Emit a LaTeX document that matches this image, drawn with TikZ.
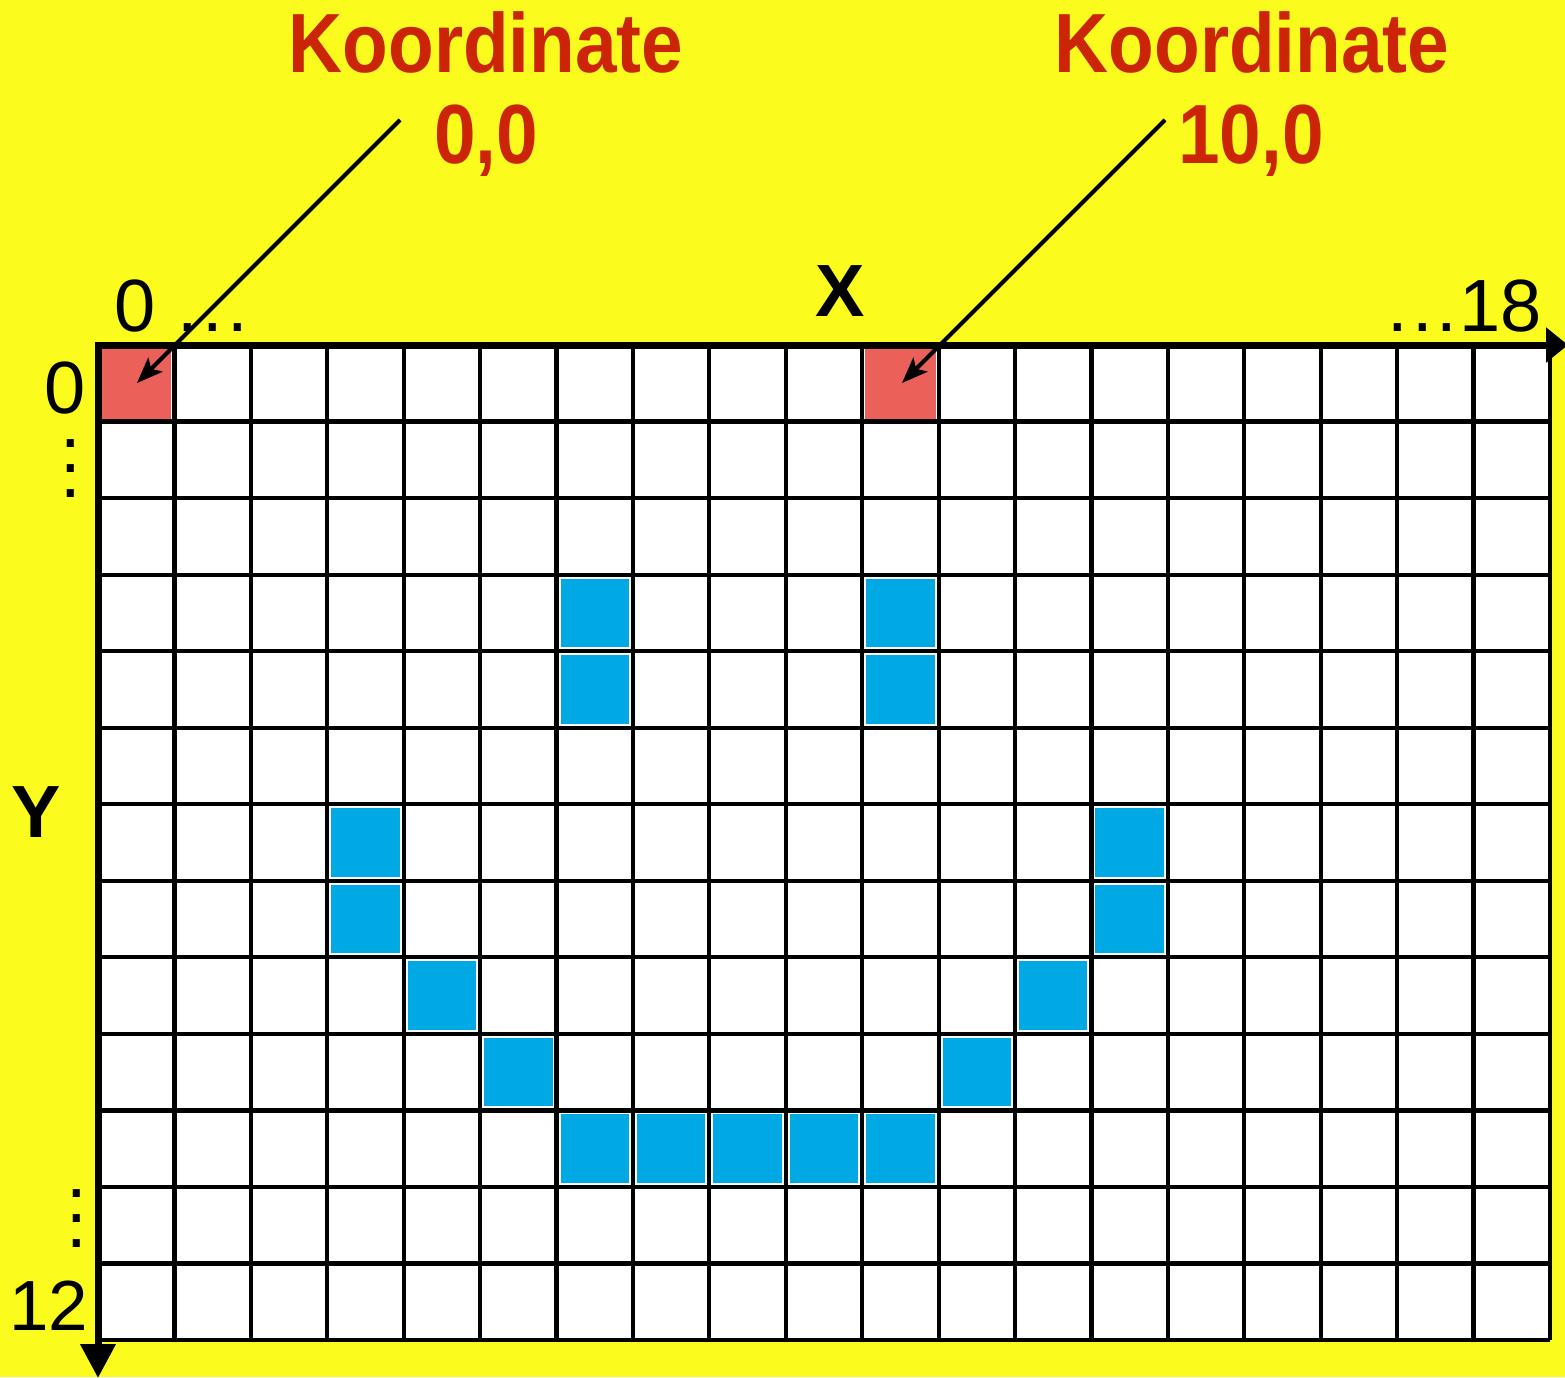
\documentclass[tikz,border=0pt]{standalone}
\usepackage{fontspec}
\setmainfont{Liberation Sans}
\newfontfamily\titlefont[FakeStretch=0.89]{Liberation Sans}
\usetikzlibrary{arrows.meta}
\definecolor{bgyellow}{RGB}{251,251,30}
\definecolor{titlered}{RGB}{204,36,6}
\definecolor{cellred}{RGB}{236,96,90}
\definecolor{cellblue}{RGB}{0,168,228}
\newcommand{\vdotsstack}{\vbox{\baselineskip=25pt\lineskiplimit=-100pt\hbox{.}\hbox{.}\hbox{.}}}
\begin{document}
\begin{tikzpicture}[x=1pt,y=-1pt,
  gridline/.style={line width=4.2pt,black},
  axisline/.style={line width=7pt,black},
  pointer/.style={line width=4pt,black,-{Stealth[length=26pt,width=20pt,inset=6pt]}},
  title/.style={font=\titlefont\bfseries\fontsize{84}{92}\selectfont,text=titlered,inner sep=0pt,anchor=base},
  tick/.style={font=\fontsize{74}{25}\selectfont,inner sep=0pt,anchor=base},
  axislabel/.style={font=\bfseries\fontsize{74}{80}\selectfont,inner sep=0pt,anchor=base},
  redcell/.style={fill=cellred},
  bluecell/.style={fill=cellblue}]
\def\cw{76.42}
\def\ch{76.54}
\useasboundingbox (0,0) rectangle (1565,1377);
\fill[bgyellow] (0,0) rectangle (1565,1377);
\fill[white] (98,345) rectangle (1550,1340);
% coloured cells
\foreach \c/\r in {0/0,10/0}{
  \fill[redcell] ({98+\c*\cw+3},{345+\r*\ch+4}) rectangle ({98+(\c+1)*\cw-3},{345+(\r+1)*\ch-3});
}
\foreach \c/\r in {6/3,6/4,10/3,10/4,3/6,3/7,13/6,13/7,4/8,12/8,5/9,11/9,6/10,7/10,8/10,9/10,10/10}{
  \fill[bluecell] ({98+\c*\cw+4},{345+\r*\ch+4}) rectangle ({98+(\c+1)*\cw-4},{345+(\r+1)*\ch-4});
}
% grid
\foreach \i in {1,...,19}{
  \draw[gridline] ({98+\i*\cw},345) -- ({98+\i*\cw},1340);
}
\foreach \j in {1,...,13}{
  \draw[gridline] (98,{345+\j*\ch}) -- (1550,{345+\j*\ch});
}
% axes
\coordinate (origin) at (98,345);
\coordinate (xend) at (1568,345);
\coordinate (yend) at (98,1378);
\draw[axisline,-{Triangle[length=22pt,width=34pt]}] ([xshift=-3.5pt]origin) -- (xend);
\draw[axisline,-{Triangle[length=34pt,width=34pt]}] ([yshift=-3.5pt]origin) -- (yend);
% axis labels
\node[axislabel] (xl) at (840,316) {X};
\node[axislabel] (yl) at (36,837) {Y};
\node[tick] (x0) at (135,331) {0};
\node[tick] (xdots) at (213,331) {.\kern4.2pt.\kern4.2pt.};
\node[tick,anchor=base east] (x18) at (1542,331) {.\kern4.2pt.\kern4.2pt.\kern2pt18};
\node[tick] (y0) at (65,413) {0};
\node[tick] (ydots1) at (71,497) {\vdotsstack};
\node[tick] (ydots2) at (77,1247) {\vdotsstack};
\node[tick,font=\fontsize{71}{25}\selectfont] (y12) at (49,1330) {12};
% titles
\node[title] (t1a) at (486,72) {Koordinate};
\node[title] (t1b) at (486,163) {0,0};
\node[title] (t2a) at (1252,72) {Koordinate};
\node[title] (t2b) at (1251,163) {10,0};
% pointers
\coordinate (p1s) at (400,120);
\coordinate (p1e) at (137,383);
\coordinate (p2s) at (1165,120);
\coordinate (p2e) at (902,383);
\draw[pointer] (p1s) -- (p1e);
\draw[pointer] (p2s) -- (p2e);
\end{tikzpicture}
\end{document}
